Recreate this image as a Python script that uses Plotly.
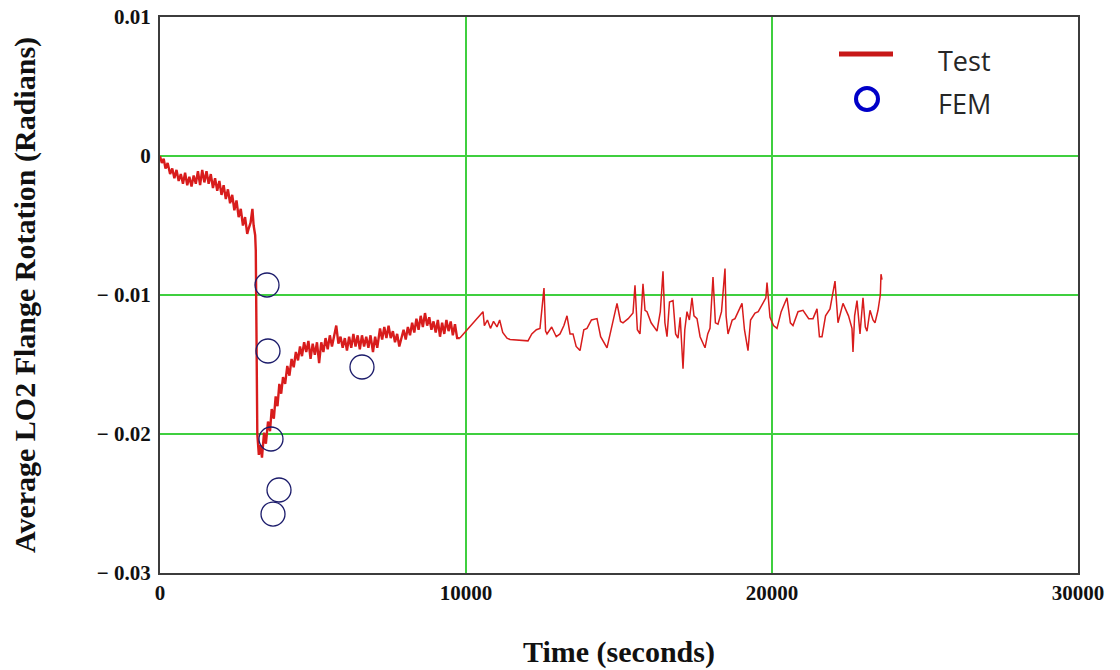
import plotly.graph_objects as go

# Measured flange rotation (test record)
test_time = [
    0, 60, 120, 180, 250, 330, 400, 470, 540, 610, 680, 750, 820, 890, 960, 1030,
    1100, 1170, 1240, 1310, 1380, 1450, 1520, 1590, 1660, 1730, 1800, 1870, 1940,
    2010, 2080, 2150, 2220, 2290, 2360, 2430, 2500, 2570, 2640, 2710, 2780, 2850,
    2900, 2960, 3020, 3060, 3110, 3130, 3150, 3180, 3230,
    3280, 3333, 3400, 3460, 3530, 3595, 3650, 3720, 3780, 3840, 3900, 3960, 4020,
    4090, 4160, 4230, 4300, 4370, 4440, 4510, 4575, 4640, 4710, 4780, 4850, 4920,
    4990, 5060, 5130, 5200, 5270, 5340, 5410, 5480, 5550, 5620, 5690, 5760, 5830,
    5900, 5970, 6040, 6110, 6180, 6250, 6320, 6390, 6460, 6530, 6600, 6670, 6740,
    6810, 6880, 6960, 7030, 7100, 7190, 7260, 7330, 7400, 7470, 7540, 7610, 7680,
    7750, 7820, 7900, 7960, 8030, 8100, 8170, 8240, 8310, 8380, 8450, 8520, 8590,
    8660, 8730, 8800, 8870, 8940, 9010, 9080, 9150, 9220, 9290, 9360, 9430, 9500,
    9570, 9640, 9710, 9800,
    10556, 10600, 10700, 10800, 10900, 11013, 11100, 11200, 11340, 11438, 12026,
    12150, 12300, 12418, 12549, 12600, 12647, 12800, 12950, 13072, 13200, 13301,
    13400, 13497, 13600, 13726, 13850, 13954, 14100, 14281, 14400, 14608, 14750,
    14935, 15050, 15131, 15300, 15458, 15523, 15600, 15686, 15784, 15850, 15915,
    16050, 16242, 16350, 16438, 16500, 16569, 16650, 16765, 16850, 16928, 17000,
    17092, 17150, 17222, 17300, 17386, 17450, 17549, 17650, 17811, 17900, 17974,
    18072, 18150, 18235, 18350, 18464, 18500, 18562, 18700, 18791, 18900, 19020,
    19100, 19216, 19300, 19444, 19550, 19706, 19800, 19837, 19935, 20050, 20163,
    20300, 20490, 20600, 20686, 20850, 21013, 21200, 21340, 21471, 21550, 21634,
    21750, 21895, 22059, 22157, 22250, 22320, 22500, 22614, 22647, 22700, 22778,
    22876, 22974, 23050, 23105, 23203, 23300, 23366, 23464, 23540, 23562, 23595,
]
test_rotation = [
    0.0000, -0.0005, -0.0002, -0.0009, -0.0005, -0.0013, -0.0009, -0.0016, -0.0010,
    -0.0018, -0.0013, -0.0020, -0.0012, -0.0021, -0.0015, -0.0022, -0.0014, -0.0020,
    -0.0011, -0.0021, -0.0010, -0.0019, -0.0011, -0.0020, -0.0013, -0.0023, -0.0016,
    -0.0025, -0.0018, -0.0028, -0.0021, -0.0031, -0.0024, -0.0034, -0.0028, -0.0039,
    -0.0032, -0.0044, -0.0038, -0.0050, -0.0044, -0.0056, -0.0052, -0.0048, -0.0038,
    -0.0050, -0.0057, -0.0068, -0.0120, -0.0200, -0.0215,
    -0.0208, -0.0217, -0.0199, -0.0207, -0.0191, -0.0198, -0.0182, -0.0189, -0.0173,
    -0.0180, -0.0164, -0.0171, -0.0159, -0.0164, -0.0151, -0.0158, -0.0146, -0.0152,
    -0.0141, -0.0147, -0.0137, -0.0144, -0.0134, -0.0141, -0.0133, -0.0146, -0.0135,
    -0.0143, -0.0134, -0.0149, -0.0134, -0.0141, -0.0131, -0.0139, -0.0129, -0.0137,
    -0.0128, -0.0122, -0.0135, -0.0130, -0.0138, -0.0131, -0.0140, -0.0130, -0.0138,
    -0.0128, -0.0137, -0.0129, -0.0139, -0.0129, -0.0137, -0.0130, -0.0138, -0.0129,
    -0.0141, -0.0130, -0.0138, -0.0124, -0.0132, -0.0123, -0.0131, -0.0122, -0.0131,
    -0.0126, -0.0134, -0.0128, -0.0137, -0.0129, -0.0125, -0.0132, -0.0123, -0.0129,
    -0.0120, -0.0127, -0.0117, -0.0125, -0.0115, -0.0123, -0.0113, -0.0122, -0.0116,
    -0.0125, -0.0119, -0.0127, -0.0118, -0.0130, -0.0120, -0.0128, -0.0118, -0.0126,
    -0.0119, -0.0129, -0.0121, -0.0131, -0.0131,
    -0.0112, -0.0122, -0.0118, -0.0124, -0.0119, -0.0123, -0.0118, -0.0127, -0.0131,
    -0.0132, -0.0133, -0.0128, -0.0125, -0.0124, -0.0095, -0.0126, -0.0128, -0.0123,
    -0.0130, -0.0128, -0.0122, -0.0115, -0.0128, -0.0128, -0.0137, -0.0140, -0.0125,
    -0.0124, -0.0118, -0.0117, -0.0130, -0.0138, -0.0125, -0.0106, -0.0119, -0.0120,
    -0.0117, -0.0113, -0.0093, -0.0125, -0.0128, -0.0092, -0.0111, -0.0112, -0.0120,
    -0.0126, -0.0112, -0.0083, -0.0120, -0.0130, -0.0105, -0.0104, -0.0128, -0.0131,
    -0.0116, -0.0153, -0.0125, -0.0112, -0.0118, -0.0102, -0.0115, -0.0117, -0.0130,
    -0.0138, -0.0128, -0.0124, -0.0087, -0.0120, -0.0121, -0.0112, -0.0081, -0.0115,
    -0.0128, -0.0118, -0.0117, -0.0112, -0.0106, -0.0125, -0.0140, -0.0118, -0.0113,
    -0.0112, -0.0106, -0.0102, -0.0091, -0.0116, -0.0122, -0.0124, -0.0112, -0.0102,
    -0.0120, -0.0122, -0.0112, -0.0111, -0.0117, -0.0117, -0.0110, -0.0130, -0.0130,
    -0.0115, -0.0110, -0.0090, -0.0120, -0.0112, -0.0106, -0.0115, -0.0124, -0.0141,
    -0.0115, -0.0104, -0.0128, -0.0102, -0.0123, -0.0126, -0.0111, -0.0118, -0.0120,
    -0.0111, -0.0100, -0.0085, -0.0089,
]

# Finite element predictions
fem_time = [3497, 3529, 3627, 3889, 3693, 6601]
fem_rotation = [-0.00928, -0.01403, -0.02036, -0.02403, -0.02576, -0.01518]

# Axis ticks
x_ticks = [0, 10000, 20000, 30000]
x_tick_text = ["0", "10000", "20000", "30000"]
y_ticks = [0.01, 0, -0.01, -0.02, -0.03]
y_tick_text = ["0.01", "0", "\u2212 0.01", "\u2212 0.02", "\u2212 0.03"]

serif = "Liberation Serif"
grid_green = "#3fcf3f"
frame = "#3c3c3c"
red = "#d81c1c"

# The densely sampled record (up to ~9800 s) draws as a thicker band
n_dense = test_time.index(9800) + 1

fig = go.Figure()
fig.add_trace(go.Scatter(
    x=test_time[:n_dense], y=test_rotation[:n_dense], mode="lines", name="Test",
    line=dict(color=red, width=2.4), showlegend=False,
))
fig.add_trace(go.Scatter(
    x=test_time[n_dense - 1:], y=test_rotation[n_dense - 1:], mode="lines",
    name="Test", line=dict(color=red, width=1.5), showlegend=False,
))
fig.add_trace(go.Scatter(
    x=fem_time, y=fem_rotation, mode="markers", name="FEM",
    marker=dict(symbol="circle-open", size=24, color="#1c1c6b",
                line=dict(width=1.3, color="#1c1c6b")),
    showlegend=False,
))

# Legend drawn in the upper right of the plot area
W, H = 918.0, 556.0
def px(x):
    return (x - 160) / W
def py(y):
    return (573 - y) / H

fig.add_shape(type="line", xref="paper", yref="paper",
              x0=px(839), x1=px(893), y0=py(54), y1=py(54),
              line=dict(color="#c81818", width=5))
r = 11
fig.add_shape(type="circle", xref="paper", yref="paper",
              x0=px(867 - r), x1=px(867 + r), y0=py(99 + r), y1=py(99 - r),
              line=dict(color="#0000c8", width=4))
for label, yy in [("Test", 61), ("FEM", 103)]:
    fig.add_annotation(text=label, xref="paper", yref="paper",
                       x=px(936), y=py(yy), xanchor="left", yanchor="middle",
                       showarrow=False,
                       font=dict(family="Open Sans", size=27, color="#262626"))

axis_common = dict(
    showline=True, mirror=True, linecolor=frame, linewidth=2,
    showgrid=True, gridcolor=grid_green, gridwidth=1.5,
    zeroline=False, ticks="", automargin=False,
    tickfont=dict(family=serif, size=21, color="#111111", weight="bold"),
)

fig.update_xaxes(
    range=[0, 30000], tickvals=x_ticks, ticktext=x_tick_text,
    ticklabelstandoff=0,
    title=dict(text="Time (seconds)", standoff=37,
               font=dict(family=serif, size=30, color="#111111", weight="bold")),
    **axis_common,
)
fig.update_yaxes(
    range=[-0.03, 0.01], tickvals=y_ticks, ticktext=y_tick_text,
    ticklabelstandoff=3,
    title=dict(text="Average LO2 Flange Rotation (Radians)", standoff=52,
               font=dict(family=serif, size=30, color="#111111", weight="bold")),
    **axis_common,
)

fig.update_layout(
    width=1120, height=670,
    margin=dict(l=160, r=42, t=17, b=97),
    paper_bgcolor="white", plot_bgcolor="white",
    showlegend=False,
)

fig.write_html("out.html")
